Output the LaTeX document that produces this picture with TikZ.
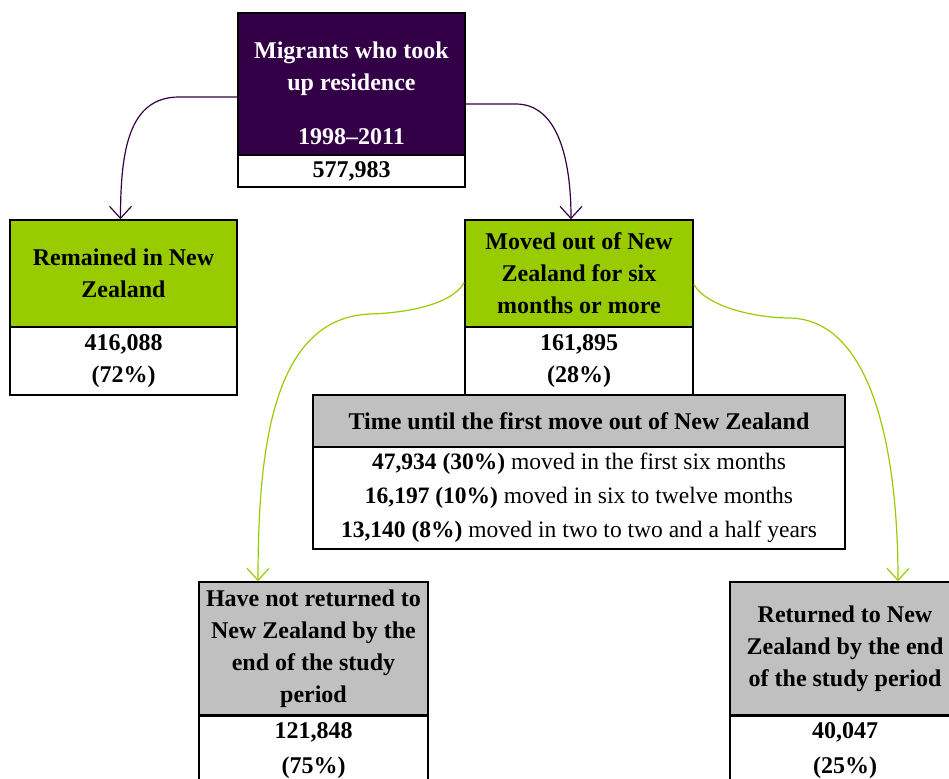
\documentclass[tikz,border=0pt]{standalone}
\usepackage{fontspec}
\setmainfont{Liberation Serif}
\usepackage{xcolor}
\usepackage{tikz}
\usetikzlibrary{arrows.meta,calc}
\definecolor{ink}{HTML}{000000}
\definecolor{purp}{HTML}{330047}
\definecolor{lime}{HTML}{99CC00}
\definecolor{gryL}{HTML}{C0C0C0}
\tikzset{
  box/.style   ={draw=ink, line width=1.6pt, align=center, inner sep=2pt,
                 font=\fontsize{24}{32}\selectfont\bfseries, text=ink},
  head/.style  ={box, fill=purp, text=white},
  gg/.style    ={box, fill=lime},
  nn/.style    ={box, fill=gryL},
  val/.style   ={box, fill=white},
  flowp/.style ={-{Straight Barb[length=12pt,width=22pt]}, line width=1.2pt, draw=purp},
  flowg/.style ={-{Straight Barb[length=12pt,width=22pt]}, line width=1.2pt, draw=lime},
}

\begin{document}
\begin{tikzpicture}[x=1pt,y=-1pt]
  \clip (0,0) rectangle (949,778);
  \useasboundingbox (0,0) rectangle (949,778);
  % top
  \node[head, minimum width=227pt, minimum height=142pt](migr) at (351.5,84){\mbox{}\\[4pt]Migrants who took\\up residence\\[22pt]1998--2011};
  \node[val, minimum width=227pt, minimum height=32pt](migrval) at (351.5,171){577,983};
  % second row
  \node[gg, minimum width=227pt, minimum height=107pt](stay) at (123.5,273.5){Remained in New\\Zealand};
  \node[val, minimum width=227pt, minimum height=68pt](stayval) at (123.5,361){416,088\\(72\%)};
  \node[gg, minimum width=228pt, minimum height=107pt](moved) at (579,273.5){Moved out of New\\Zealand for six\\months or more};
  \node[val, minimum width=228pt, minimum height=68pt](movedval) at (579,361){161,895\\(28\%)};
  % timing
  \node[nn, minimum width=532pt, minimum height=52pt](time) at (579,421){Time until the first move out of New Zealand};
  \node[val, minimum width=532pt, minimum height=102pt, font=\fontsize{23.5}{34}\selectfont](timeval) at (579,498){%
    \textbf{47,934 (30\%)} moved in the first six months\\
    \textbf{16,197 (10\%)} moved in six to twelve months\\
    \textbf{13,140 (8\%)} moved in two to two and a half years};
  % bottom row
  \node[nn, minimum width=229pt, minimum height=133pt](notret) at (313.5,648.5){Have not returned to\\New Zealand by the\\end of the study\\period};
  \node[val, minimum width=229pt, minimum height=68pt, anchor=north](notretval) at (notret.south){121,848\\[3pt](75\%)};
  \node[nn, minimum width=230pt, minimum height=133pt](ret) at (845,648.5){Returned to New\\Zealand by the end\\of the study period};
  \node[val, minimum width=230pt, minimum height=68pt, anchor=north](retval) at (ret.south){40,047\\[3pt](25\%)};
  % connectors
  \draw[flowp]([yshift=-13pt]migr.west) -- ++(-58,0) .. controls +(-50,0) and +(0,-70) .. ([xshift=-3pt]stay.north);
  \draw[flowp]([yshift=-20pt]migr.east) -- ++(50,0) .. controls +(42,0) and +(0,-60) .. ([xshift=-8pt]moved.north);
  \draw[flowg]([yshift=-9pt]moved.west) .. controls (452,305) and (405,313) .. (370,314)
    .. controls (272,318) and (258,450) .. ([xshift=-55.5pt]notret.north);
  \draw[flowg]([yshift=-11pt]moved.east) .. controls (708,308) and (758,318) .. (790,318)
    .. controls (872,320) and (898,450) .. ([xshift=53pt]ret.north);
\end{tikzpicture}
\end{document}
